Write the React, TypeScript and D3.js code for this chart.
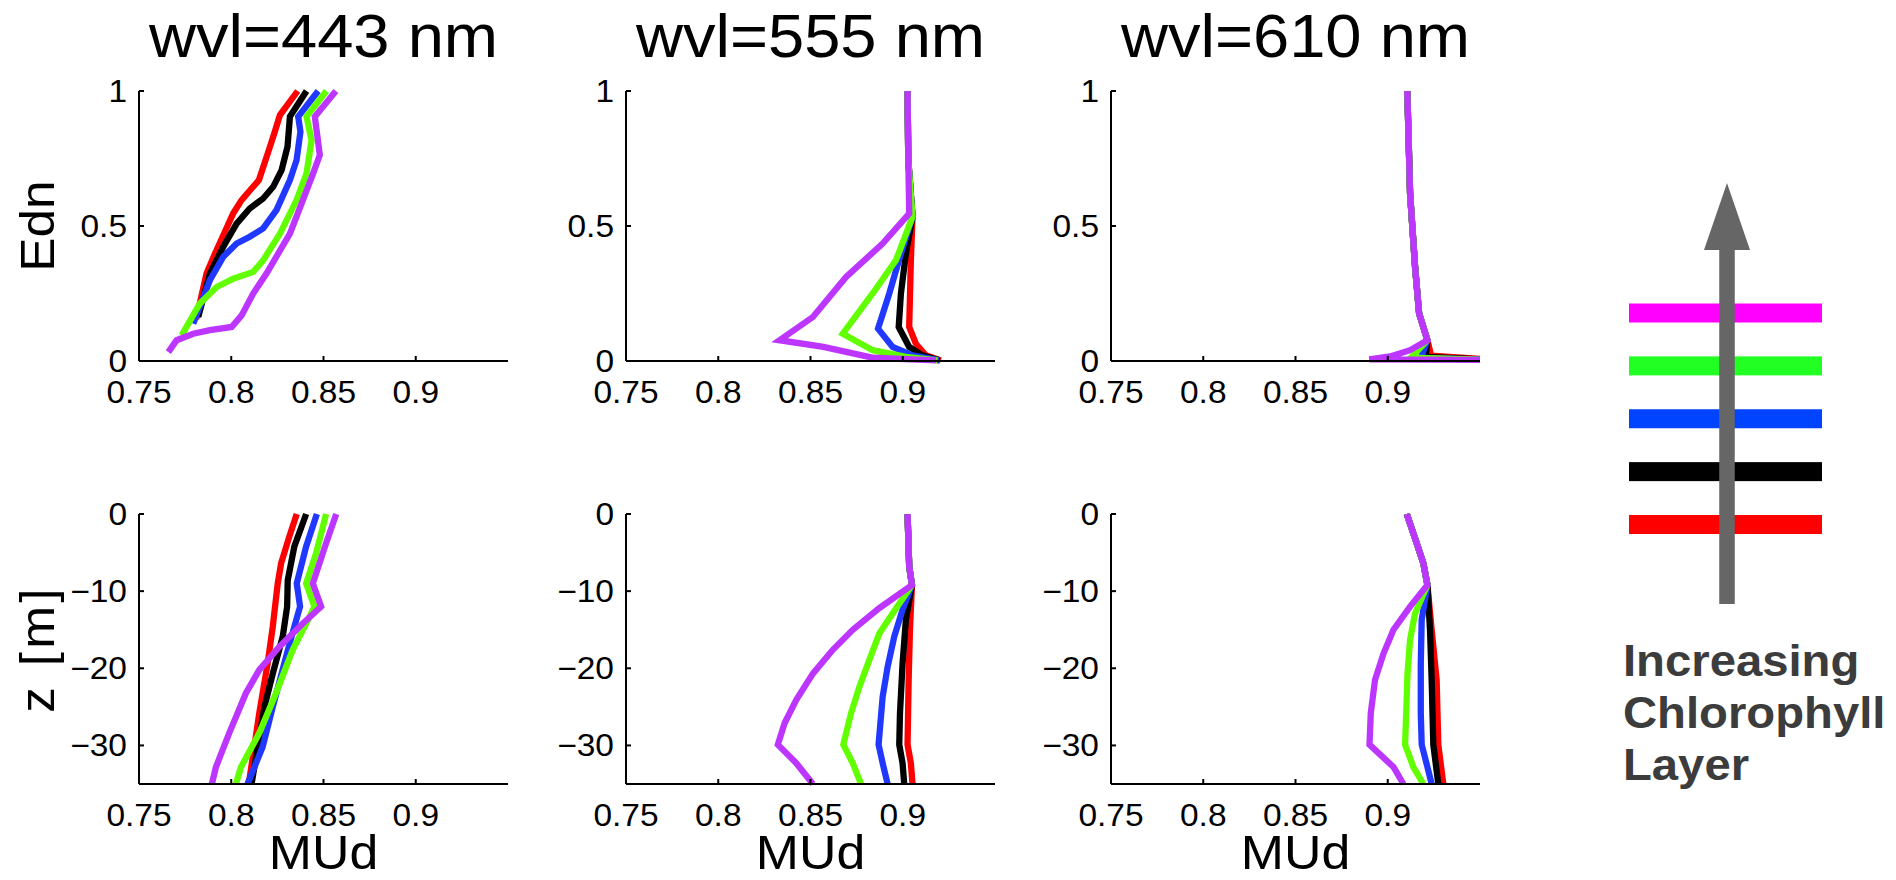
import React from 'react';
import * as d3 from 'd3';

type Pt = [number, number];

// ---------- data ----------
const titles = ['wvl=443 nm', 'wvl=555 nm', 'wvl=610 nm'];
const seriesColors = ['#ff0000', '#000000', '#2038ff', '#62ff00', '#bc36ff']; // red, black, blue, green, purple
const legendColors = ['#ff00ff', '#22ff22', '#0044ff', '#000000', '#ff0000']; // top to bottom
const legendText = ['Increasing', 'Chlorophyll', 'Layer'];
const mudTicks = [0.75, 0.8, 0.85, 0.9];
const mudTickLabels = ['0.75', '0.8', '0.85', '0.9'];
const ednTicks = [0, 0.5, 1];
const ednTickLabels = ['0', '0.5', '1'];
const depthTicks = [0, -10, -20, -30];
const depthTickLabels = ['0', '\u221210', '\u221220', '\u221230'];
const mudDomain: Pt = [0.75, 0.95];
const ednDomain: Pt = [0, 1];
const depthDomain: Pt = [-35, 0];

// Edn (y) vs MUd (x), series order: red, black, blue, green, purple
const edn443: Pt[][] = [
  [[0.836, 1.0], [0.8264, 0.911], [0.8236, 0.849], [0.821, 0.794], [0.815, 0.67], [0.811, 0.639], [0.8056, 0.596], [0.801, 0.546], [0.7957, 0.466], [0.7912, 0.398], [0.7866, 0.324], [0.781, 0.155]],
  [[0.8408, 1.0], [0.8318, 0.905], [0.8305, 0.794], [0.8273, 0.707], [0.8227, 0.645], [0.8173, 0.602], [0.81, 0.565], [0.8029, 0.509], [0.7957, 0.423], [0.7884, 0.324], [0.7821, 0.163]],
  [[0.8471, 1.0], [0.8363, 0.905], [0.8375, 0.849], [0.8354, 0.744], [0.8318, 0.67], [0.8245, 0.559], [0.8173, 0.491], [0.81, 0.46], [0.8029, 0.435], [0.7957, 0.386], [0.7884, 0.299], [0.7794, 0.138]],
  [[0.8516, 1.0], [0.8408, 0.905], [0.8435, 0.818], [0.8408, 0.695], [0.8354, 0.596], [0.8264, 0.472], [0.8173, 0.373], [0.8119, 0.33], [0.8011, 0.305], [0.7921, 0.274], [0.783, 0.213], [0.7731, 0.095]],
  [[0.8567, 1.0], [0.8453, 0.905], [0.848, 0.763], [0.8444, 0.695], [0.8381, 0.583], [0.8318, 0.472], [0.8191, 0.324], [0.8119, 0.25], [0.8056, 0.169], [0.8002, 0.126], [0.7884, 0.114], [0.7794, 0.101], [0.7704, 0.077], [0.7659, 0.033]],
];
const edn555: Pt[][] = [
  [[0.9026, 1.0], [0.903, 0.744], [0.9053, 0.534], [0.9044, 0.373], [0.9035, 0.126], [0.9071, 0.064], [0.9125, 0.021], [0.9206, 0.002]],
  [[0.9026, 1.0], [0.903, 0.744], [0.9053, 0.534], [0.9017, 0.398], [0.899, 0.25], [0.8978, 0.126], [0.9035, 0.052], [0.9107, 0.021], [0.92, 0.002]],
  [[0.9026, 1.0], [0.903, 0.744], [0.9053, 0.534], [0.899, 0.398], [0.8927, 0.25], [0.8866, 0.12], [0.8945, 0.052], [0.9053, 0.021], [0.9197, 0.002]],
  [[0.9026, 1.0], [0.903, 0.744], [0.9053, 0.534], [0.8963, 0.373], [0.8837, 0.25], [0.8675, 0.101], [0.8837, 0.04], [0.9017, 0.015], [0.9188, 0.002]],
  [[0.9026, 1.0], [0.903, 0.744], [0.9035, 0.546], [0.8891, 0.435], [0.8693, 0.311], [0.8513, 0.163], [0.8332, 0.077], [0.857, 0.052], [0.884, 0.012], [0.918, 0.002]],
];
const edn610: Pt[][] = [
  [[0.9106, 1.0], [0.9121, 0.621], [0.9148, 0.349], [0.917, 0.176], [0.9215, 0.077], [0.9235, 0.02], [0.96, 0.003]],
  [[0.9106, 1.0], [0.9121, 0.621], [0.9148, 0.349], [0.917, 0.176], [0.9215, 0.077], [0.9205, 0.015], [0.96, 0.003]],
  [[0.9106, 1.0], [0.9121, 0.621], [0.9148, 0.349], [0.917, 0.176], [0.9215, 0.077], [0.918, 0.012], [0.96, 0.003]],
  [[0.9106, 1.0], [0.9121, 0.621], [0.9148, 0.349], [0.917, 0.176], [0.9215, 0.077], [0.9125, 0.012], [0.96, 0.003]],
  [[0.9106, 1.0], [0.9121, 0.621], [0.9148, 0.349], [0.917, 0.176], [0.9215, 0.077], [0.9121, 0.04], [0.9013, 0.017], [0.89, 0.006], [0.96, 0.004]],
];

// depth z [m] (y) vs MUd (x)
const depth443: Pt[][] = [
  [[0.8355, 0], [0.8315, -2.9], [0.827, -6.4], [0.8252, -9.0], [0.8225, -14.6], [0.8197, -19.4], [0.8152, -25.8], [0.8095, -35]],
  [[0.8406, 0], [0.8342, -4.2], [0.8306, -8.6], [0.8303, -12.0], [0.8279, -15.9], [0.8225, -20.7], [0.818, -25], [0.811, -35]],
  [[0.8464, 0], [0.8406, -4.2], [0.8355, -9.0], [0.8373, -12.0], [0.8342, -14.6], [0.8297, -18.5], [0.8225, -25], [0.817, -30.2], [0.8088, -35]],
  [[0.8514, 0], [0.846, -5.1], [0.8406, -9.0], [0.8451, -12.0], [0.8406, -14.2], [0.8333, -17.6], [0.8243, -23.2], [0.8152, -28.4], [0.8053, -32.8], [0.8025, -35]],
  [[0.8569, 0], [0.8514, -3.8], [0.8442, -9.0], [0.8487, -12.0], [0.8388, -14.2], [0.8261, -17.2], [0.8152, -20.2], [0.808, -23.2], [0.7989, -28.4], [0.7917, -32.8], [0.7895, -35]],
];
const depth555: Pt[][] = [
  [[0.9026, 0], [0.9035, -6.8], [0.905, -9.2], [0.9039, -15], [0.9032, -21.5], [0.9026, -29.9], [0.9044, -32.3], [0.9053, -35]],
  [[0.9026, 0], [0.9035, -6.8], [0.905, -9.2], [0.9017, -13.7], [0.8999, -19.4], [0.8985, -25.8], [0.8981, -29.9], [0.8999, -32.3], [0.9008, -35]],
  [[0.9026, 0], [0.9035, -6.8], [0.905, -9.2], [0.8999, -12.4], [0.8954, -15.9], [0.8918, -19.8], [0.8891, -23.7], [0.8869, -29.9], [0.8891, -32.3], [0.8918, -35]],
  [[0.9026, 0], [0.9035, -6.8], [0.905, -9.2], [0.8945, -12.9], [0.8873, -15.5], [0.8819, -18.9], [0.8765, -22.4], [0.872, -25.8], [0.8678, -29.9], [0.8729, -32.3], [0.8774, -35]],
  [[0.9026, 0], [0.9035, -6.8], [0.905, -9.2], [0.8873, -12.2], [0.8729, -15], [0.8621, -17.6], [0.8513, -20.7], [0.8423, -24.1], [0.836, -27.1], [0.8323, -29.9], [0.8423, -32.3], [0.8513, -35]],
];
const depth610: Pt[][] = [
  [[0.9103, 0], [0.9157, -3.8], [0.9193, -6.4], [0.9215, -9.2], [0.9238, -15], [0.9265, -21.5], [0.9274, -29.9], [0.9301, -35]],
  [[0.9103, 0], [0.9157, -3.8], [0.9193, -6.4], [0.9215, -9.2], [0.9229, -15], [0.9238, -21.5], [0.9247, -29.9], [0.9274, -35]],
  [[0.9103, 0], [0.9157, -3.8], [0.9193, -6.4], [0.9215, -9.2], [0.9184, -13.7], [0.9179, -19.4], [0.9179, -25.8], [0.9184, -29.9], [0.9215, -32.8], [0.9238, -35]],
  [[0.9103, 0], [0.9157, -3.8], [0.9193, -6.4], [0.9215, -9.2], [0.9148, -12.9], [0.9121, -16.3], [0.9107, -20.7], [0.91, -25.8], [0.9094, -29.9], [0.9139, -32.8], [0.9193, -35]],
  [[0.9103, 0], [0.9157, -3.8], [0.9193, -6.4], [0.9215, -9.2], [0.9121, -12], [0.9031, -15], [0.8977, -18.1], [0.8931, -21.5], [0.8908, -25.8], [0.8901, -29.9], [0.9031, -32.8], [0.9085, -35]],
];

// ---------- layout ----------
const W = 1896;
const H = 880;
const FONT = "'Liberation Sans', Arial, Helvetica, sans-serif";
const panelLefts = [139, 626, 1111];
const panelWidth = 369;
const rowTops = [91, 514];
const rowHeight = 270;
const SX = 1.08;

function Txt(props: {
  x: number; y: number; size: number; anchor?: string; rotate?: number; sx?: number;
  weight?: string | number; fill?: string; spacing?: number; children: React.ReactNode;
}) {
  const { x, y, size, anchor = 'start', rotate = 0, sx = SX, weight = 'normal', fill = '#000', spacing } = props;
  return (
    <text
      transform={`translate(${x},${y}) rotate(${rotate}) scale(${sx},1)`}
      fontFamily={FONT}
      fontSize={size}
      fontWeight={weight}
      textAnchor={anchor}
      fill={fill}
      letterSpacing={spacing}
    >
      {props.children}
    </text>
  );
}

function Panel(props: {
  id: string; left: number; top: number; series: Pt[][]; yDomain: Pt;
  yTicks: number[]; yTickLabels: string[]; title?: string; xLabel?: string; yLabel?: string; yLabelSpacing?: number;
}) {
  const { id, left, top, series, yDomain, yTicks, yTickLabels, title, xLabel, yLabel, yLabelSpacing } = props;
  const x = d3.scaleLinear().domain(mudDomain).range([left, left + panelWidth]);
  const y = d3.scaleLinear().domain(yDomain).range([top + rowHeight, top]);
  const line = d3.line<Pt>().x((d) => x(d[0])).y((d) => y(d[1]));
  const bottom = top + rowHeight;
  const tickLen = 5;
  return (
    <g>
      <defs>
        <clipPath id={id}>
          <rect x={left} y={top - 10} width={panelWidth} height={rowHeight + 14} />
        </clipPath>
      </defs>
      {title && (
        <Txt x={left + panelWidth / 2} y={57} size={62} anchor="middle" sx={1.05}>{title}</Txt>
      )}
      <g clipPath={`url(#${id})`}>
        {series.map((s, i) => (
          <path key={i} d={line(s) || ''} fill="none" stroke={seriesColors[i]} strokeWidth={6.3} strokeLinejoin="miter" strokeMiterlimit={4} />
        ))}
      </g>
      {/* axes */}
      <line x1={left} x2={left + panelWidth} y1={bottom} y2={bottom} stroke="#000" strokeWidth={2} />
      <line x1={left} x2={left} y1={top} y2={bottom} stroke="#000" strokeWidth={2} />
      {mudTicks.map((t, i) => (
        <g key={'x' + i}>
          <line x1={x(t)} x2={x(t)} y1={bottom} y2={bottom - tickLen} stroke="#000" strokeWidth={2} />
          <Txt x={x(t)} y={bottom + 42} size={31} anchor="middle">{mudTickLabels[i]}</Txt>
        </g>
      ))}
      {yTicks.map((t, i) => (
        <g key={'y' + i}>
          <line x1={left} x2={left + tickLen} y1={y(t)} y2={y(t)} stroke="#000" strokeWidth={2} />
          <Txt x={left - 12} y={y(t) + 11} size={31} anchor="end">{yTickLabels[i]}</Txt>
        </g>
      ))}
      {xLabel && (
        <Txt x={left + panelWidth / 2} y={869} size={48} anchor="middle" sx={1.08}>{xLabel}</Txt>
      )}
      {yLabel && (
        <Txt x={54} y={top + rowHeight / 2} size={48} anchor="middle" rotate={-90} sx={1.07} spacing={yLabelSpacing}>{yLabel}</Txt>
      )}
    </g>
  );
}

export default function App() {
  const topSeries = [edn443, edn555, edn610];
  const botSeries = [depth443, depth555, depth610];
  const legendY = d3.scalePoint<number>().domain(legendColors.map((_, i) => i)).range([313, 524.5]);
  const textY = d3.scalePoint<number>().domain(legendText.map((_, i) => i)).range([676, 780]);
  const arrowX = 1727;
  return (
    <svg width={W} height={H} style={{ position: 'absolute', left: 0, top: 0, background: '#fff' }}>
      <rect x={0} y={0} width={W} height={H} fill="#fff" />
      {panelLefts.map((l, i) => (
        <Panel key={'t' + i} id={`clipT${i}`} left={l} top={rowTops[0]} series={topSeries[i]} yDomain={ednDomain}
          yTicks={ednTicks} yTickLabels={ednTickLabels} title={titles[i]} yLabel={i === 0 ? 'Edn' : undefined} />
      ))}
      {panelLefts.map((l, i) => (
        <Panel key={'b' + i} id={`clipB${i}`} left={l} top={rowTops[1]} series={botSeries[i]} yDomain={depthDomain}
          yTicks={depthTicks} yTickLabels={depthTickLabels} xLabel="MUd" yLabel={i === 0 ? 'z [m]' : undefined} yLabelSpacing={3} />
      ))}
      {/* legend */}
      {legendColors.map((c, i) => (
        <rect key={'lg' + i} x={1629} y={(legendY(i) as number) - 9.5} width={193} height={19} fill={c} />
      ))}
      <rect x={arrowX - 7.75} y={249} width={15.5} height={355} fill="#666666" />
      <polygon points={`${arrowX - 23},250 ${arrowX + 23},250 ${arrowX},183`} fill="#666666" />
      {legendText.map((t, i) => (
        <Txt key={'lt' + i} x={1623} y={textY(i) as number} size={45} weight="bold" fill="#3c3c3c" sx={1.05}>{t}</Txt>
      ))}
    </svg>
  );
}
